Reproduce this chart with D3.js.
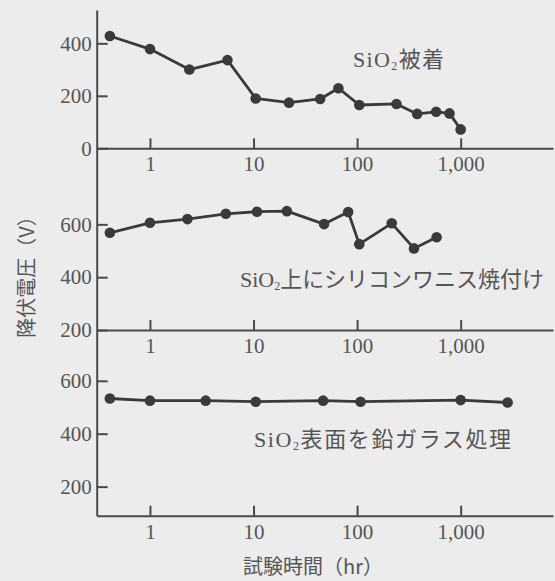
<!DOCTYPE html>
<html>
<head>
<meta charset="utf-8">
<script src="https://cdn.jsdelivr.net/npm/d3@7"></script>
<style>
  body { margin: 0; background: #ececec; }
  svg { display: block; }
</style>
</head>
<body>
<div id="chart"></div>
<script>
// breakdown voltage vs test time, three surface treatments
const hoursCoated = [0.41, 1, 2.4, 5.6, 10.5, 22, 44, 66, 105, 240, 380, 580, 780, 1000];
const voltsCoated = [428, 378, 300, 336, 190, 174, 188, 229, 165, 169, 131, 139, 133, 72];

const hoursVarnish = [0.41, 1, 2.3, 5.4, 10.8, 21, 48, 82, 105, 216, 354, 586];
const voltsVarnish = [568, 606, 620, 640, 648, 650, 601, 647, 525, 604, 509, 551];

const hoursLeadGlass = [0.41, 1, 3.45, 10.5, 47, 108, 1000, 2840];
const voltsLeadGlass = [533, 525, 525, 521, 525, 521, 527, 518];

const xTicks = [1, 10, 100, 1000];
const panelLabels = ["被着", "上にシリコンワニス焼付け", "表面を鉛ガラス処理"];
const xTitle = "試験時間（hr）";
const yTitle = "降伏電圧（V）";

const width = 555, height = 581;
const axisX = 96.7;
const serif = "'Liberation Serif', 'DejaVu Serif', serif";
const cjk = "'Noto Sans CJK JP', sans-serif";
const ink = "#3a3a3a";
const textInk = "#555";

const svg = d3.select("#chart").append("svg")
    .attr("width", width)
    .attr("height", height);

svg.append("rect")
    .attr("width", width)
    .attr("height", height)
    .attr("fill", "#ececec");

// log time axis, 1 hr at x=150, 1,000 hr at x=460.7
const x = d3.scaleLog()
    .domain([0.306, 7790])
    .range([axisX, 553]);

const panels = [
  { hours: hoursCoated, volts: voltsCoated, domain: [0, 527], range: [148.3, 10], ticks: [0, 200, 400],
    label: panelLabels[0], lx: 353, ly: 67, lw: 91 },
  { hours: hoursVarnish, volts: voltsVarnish, domain: [200, 888], range: [330, 148.3], ticks: [200, 400, 600],
    label: panelLabels[1], lx: 240, ly: 287, lw: 304 },
  { hours: hoursLeadGlass, volts: voltsLeadGlass, domain: [90, 792], range: [515.7, 330], ticks: [200, 400, 600],
    label: panelLabels[2], lx: 254, ly: 446.5, lw: 257 }
];

function styleAxis(g) {
  g.selectAll("path, line")
      .attr("stroke", "#4a4a4a")
      .attr("stroke-width", 2);
  g.selectAll("text")
      .attr("font-family", serif)
      .attr("font-size", 21)
      .attr("fill", textInk);
}

panels.forEach(p => {
  const y = d3.scaleLinear().domain(p.domain).range(p.range);

  svg.append("g")
      .attr("transform", `translate(${axisX},0)`)
      .call(d3.axisLeft(y).tickValues(p.ticks).tickSizeInner(-11).tickSizeOuter(0).tickPadding(5))
      .call(styleAxis);

  svg.append("g")
      .attr("transform", `translate(0,${y(p.domain[0])})`)
      .call(d3.axisBottom(x).tickValues(xTicks).tickFormat(d3.format(",")).tickSizeInner(-10).tickSizeOuter(0).tickPadding(8))
      .call(styleAxis);

  const pts = p.hours.map((h, i) => [x(h), y(p.volts[i])]);

  svg.append("path")
      .attr("d", d3.line()(pts))
      .attr("fill", "none")
      .attr("stroke", ink)
      .attr("stroke-width", 2.8)
      .attr("stroke-linejoin", "round");

  svg.append("g").selectAll("circle")
      .data(pts)
      .join("circle")
      .attr("cx", d => d[0])
      .attr("cy", d => d[1])
      .attr("r", 5.3)
      .attr("fill", ink);

  const t = svg.append("text")
      .attr("x", p.lx)
      .attr("y", p.ly)
      .attr("textLength", p.lw)
      .attr("lengthAdjust", "spacing")
      .attr("fill", textInk)
      .attr("font-size", 22);
  t.append("tspan").attr("font-family", serif).text("SiO");
  t.append("tspan").attr("font-family", serif).attr("font-size", 12).attr("dy", 3).text("2");
  t.append("tspan").attr("font-family", cjk).attr("dy", -3).text(p.label);
});

svg.append("text")
    .attr("x", 243)
    .attr("y", 574)
    .attr("font-family", cjk)
    .attr("font-size", 20)
    .attr("fill", textInk)
    .text(xTitle);

svg.append("text")
    .attr("transform", "translate(25,272) rotate(-90)")
    .attr("text-anchor", "middle")
    .attr("dominant-baseline", "central")
    .attr("font-family", cjk)
    .attr("font-size", 20)
    .attr("fill", textInk)
    .text(yTitle);
</script>
</body>
</html>
